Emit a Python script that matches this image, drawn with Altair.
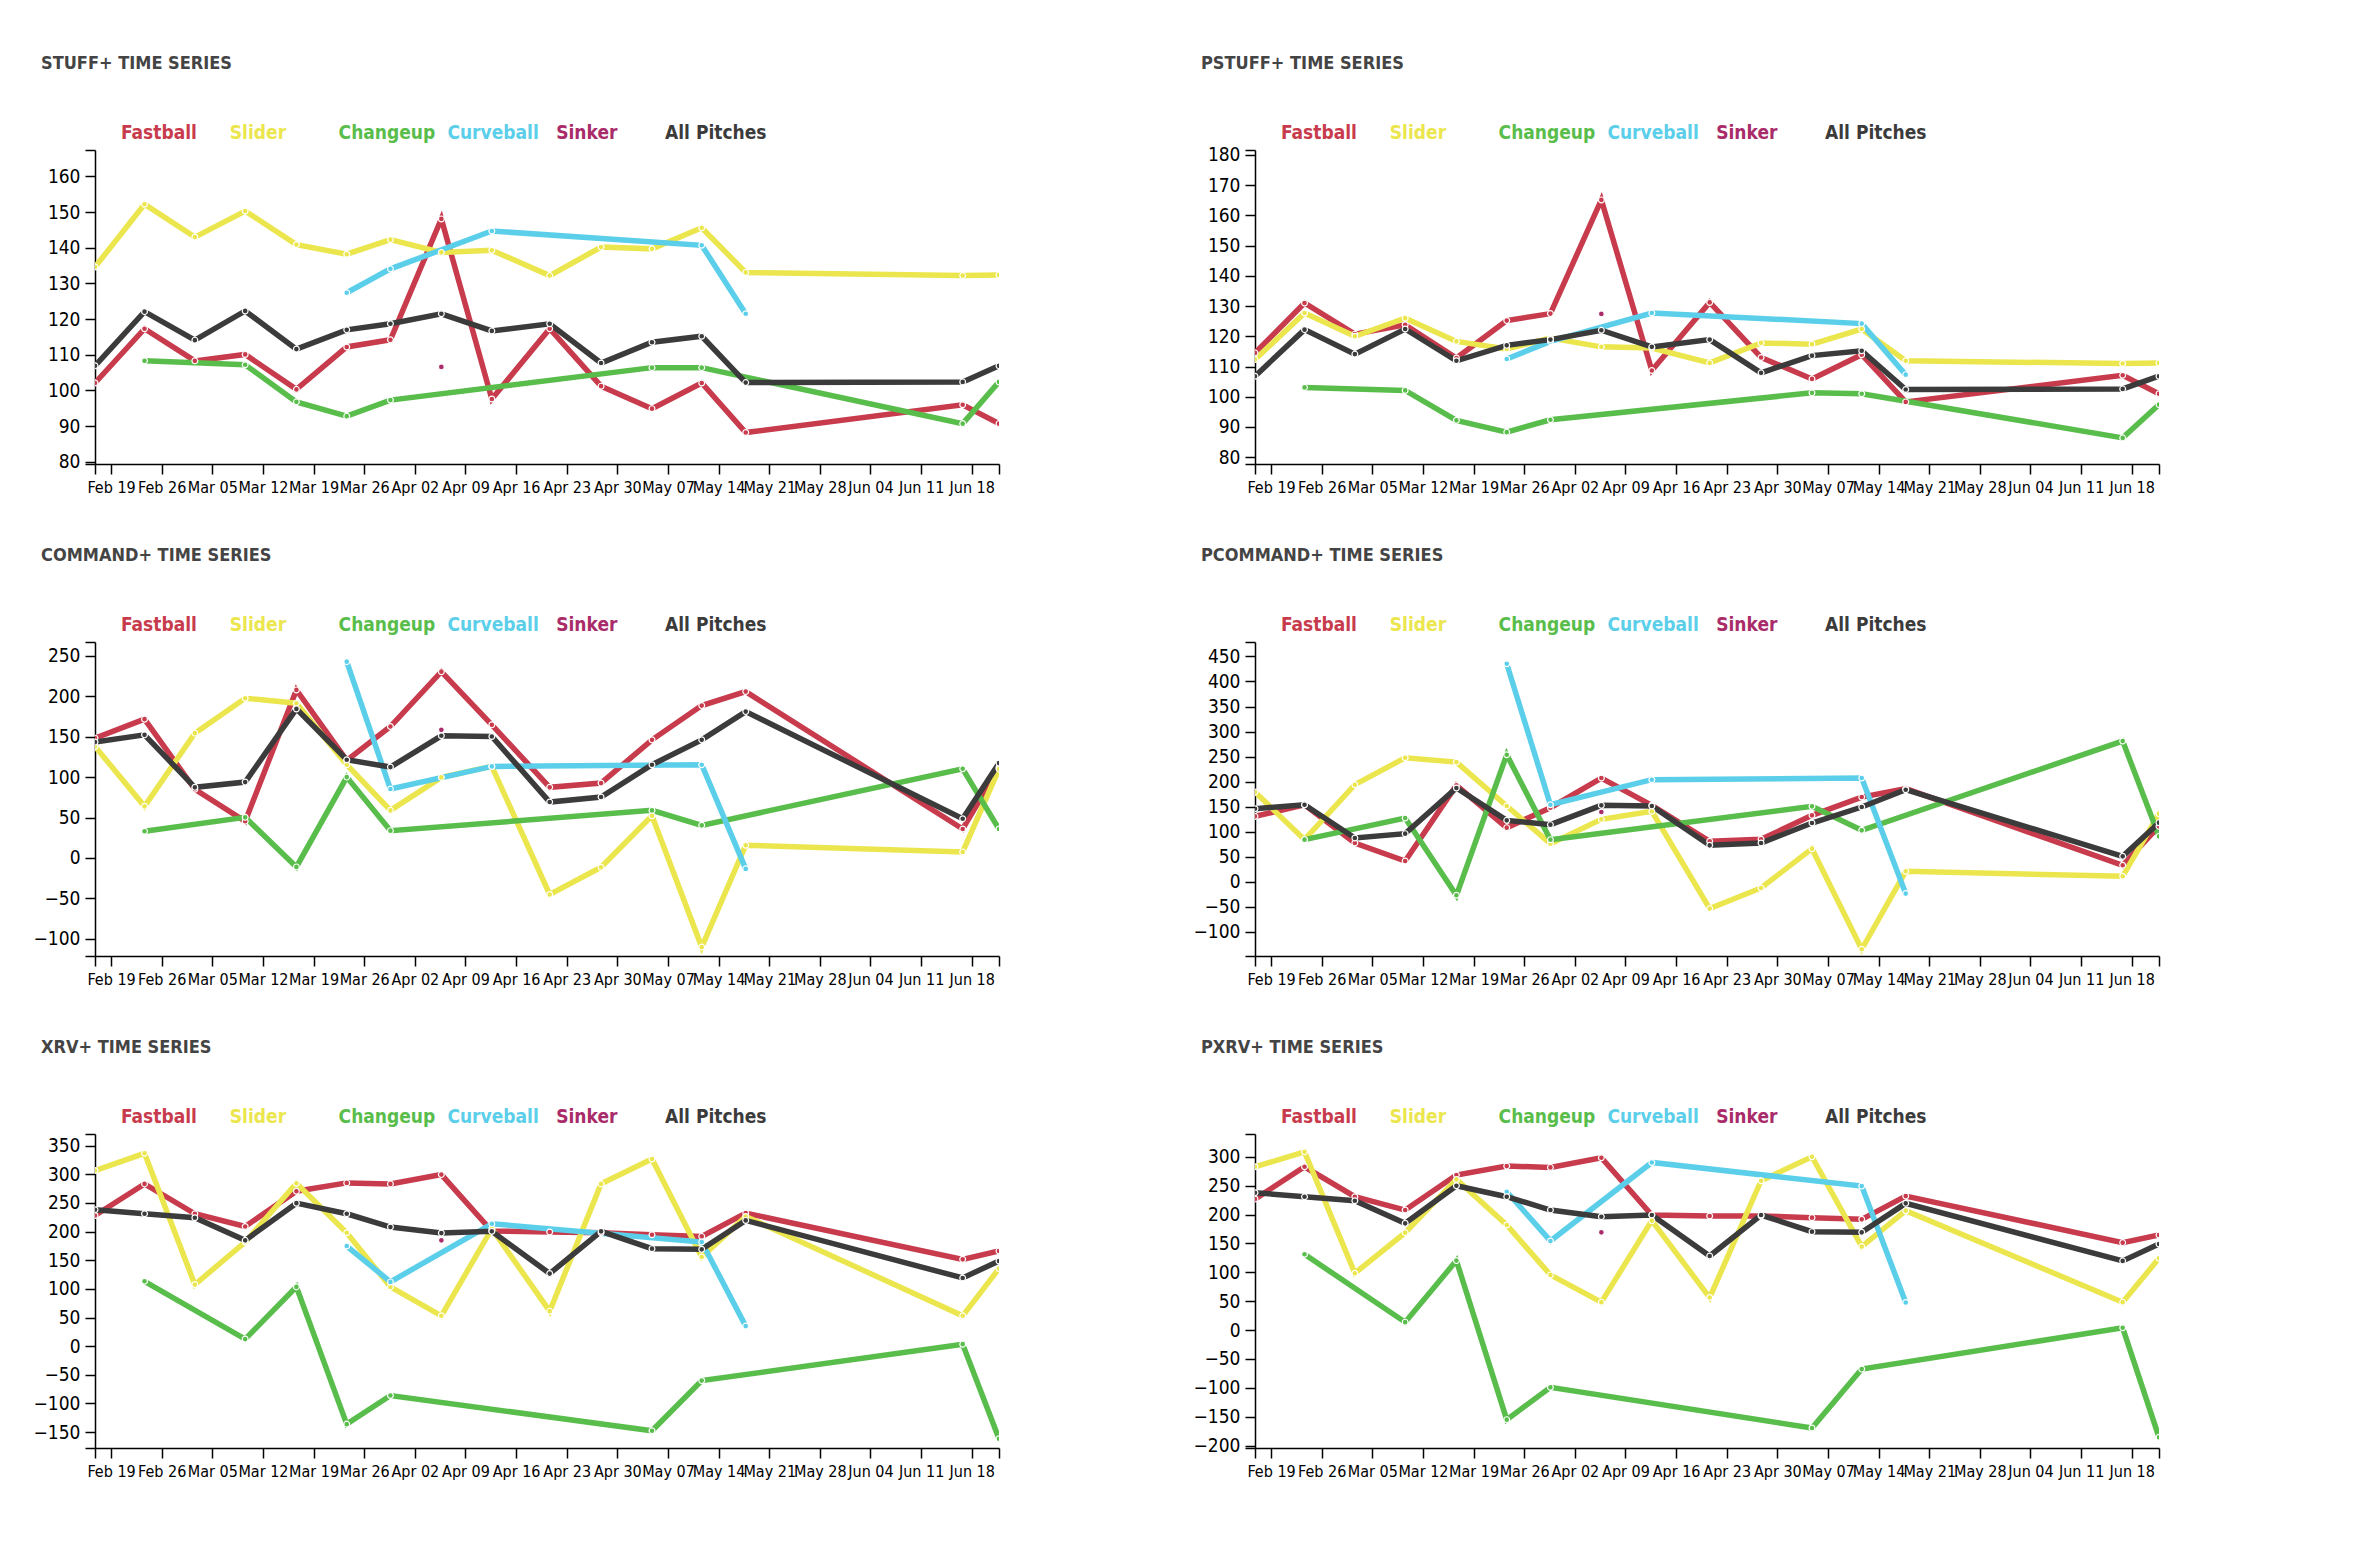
import altair as alt
import pandas as pd

FONT = "DejaVu Sans Condensed, Liberation Sans Narrow, Liberation Sans, sans-serif"

GAME_DATES = [
    "2023-02-16T18:40", "2023-02-23T15:00", "2023-03-02T14:00", "2023-03-09T13:00",
    "2023-03-16T15:00", "2023-03-23T14:00", "2023-03-29T15:00", "2023-04-05T16:00",
    "2023-04-12T15:30", "2023-04-20T15:30", "2023-04-27T18:00", "2023-05-04T19:00",
    "2023-05-11T16:00", "2023-05-17T18:00", "2023-06-16T18:00", "2023-06-21T18:30",
]
WEEK_TICKS = [
    "2023-02-19", "2023-02-26", "2023-03-05", "2023-03-12", "2023-03-19", "2023-03-26",
    "2023-04-02", "2023-04-09", "2023-04-16", "2023-04-23", "2023-04-30", "2023-05-07",
    "2023-05-14", "2023-05-21", "2023-05-28", "2023-06-04", "2023-06-11", "2023-06-18",
]

PITCHES = ["Fastball", "Slider", "Changeup", "Curveball", "Sinker", "All Pitches"]
PITCH_COLORS = ["#c73b4c", "#ebe64e", "#59bd4b", "#5bcfe9", "#a92b69", "#3b3b3b"]

# which games each pitch type shows up in (index into GAME_DATES)
GAMES_PLAYED = {
    "Fastball": list(range(16)),
    "Slider": list(range(16)),
    "Changeup": [1, 3, 4, 5, 6, 11, 12, 14, 15],
    "Curveball": [5, 6, 8, 12, 13],
    "Sinker": [7],
    "All Pitches": list(range(16)),
}

STUFF = {
    "Fastball": [102.1, 117.3, 108.3, 110.1, 100.3, 112.2, 114.2, 148.1, 97.6, 117.3, 101.2, 94.9, 102.1, 88.2, 96.0, 90.7],
    "Slider": [134.6, 152.2, 143.0, 150.3, 140.9, 138.2, 142.3, 138.7, 139.3, 132.2, 140.2, 139.7, 145.6, 133.1, 132.2, 132.4],
    "Changeup": [108.3, 107.2, 96.8, 92.8, 97.3, 106.4, 106.4, 90.7, 102.4],
    "Curveball": [127.4, 134.1, 144.7, 140.7, 121.5],
    "Sinker": [106.6],
    "All Pitches": [106.9, 122.1, 114.1, 122.3, 111.6, 117.0, 118.7, 121.5, 116.7, 118.7, 107.7, 113.5, 115.2, 102.2, 102.4, 106.9],
}
PSTUFF = {
    "Fastball": [114.5, 131.0, 120.7, 123.8, 112.8, 125.2, 127.5, 165.1, 108.7, 131.2, 113.0, 105.9, 113.9, 98.3, 107.1, 101.0],
    "Slider": [112.3, 127.7, 120.0, 126.0, 118.3, 115.8, 119.4, 116.5, 116.1, 111.2, 117.8, 117.4, 122.4, 111.9, 111.0, 111.2],
    "Changeup": [103.1, 102.1, 92.2, 88.3, 92.4, 101.3, 101.0, 86.4, 97.4],
    "Curveball": [112.5, 118.3, 127.7, 124.2, 107.3],
    "Sinker": [127.4],
    "All Pitches": [106.8, 122.2, 114.1, 122.4, 111.9, 117.0, 118.9, 122.0, 116.5, 118.9, 107.9, 113.6, 115.2, 102.4, 102.6, 106.8],
}
COMMAND = {
    "Fastball": [148.3, 171.8, 85.0, 45.4, 208.0, 120.7, 162.7, 230.6, 164.8, 87.4, 92.7, 146.2, 188.6, 205.9, 35.9, 112.0],
    "Slider": [138.0, 63.9, 154.5, 197.7, 191.5, 115.4, 58.9, 99.7, 113.3, -45.2, -11.5, 52.2, -110.3, 15.7, 7.5, 110.0],
    "Changeup": [33.0, 50.3, -11.1, 100.1, 33.8, 58.9, 40.4, 110.4, 35.9],
    "Curveball": [243.0, 85.3, 113.3, 115.4, -13.5],
    "Sinker": [158.6],
    "All Pitches": [143.4, 152.4, 87.4, 93.9, 184.5, 121.5, 112.5, 151.2, 150.4, 69.2, 75.4, 115.4, 146.2, 181.2, 48.6, 117.4],
}
PCOMMAND = {
    "Fastball": [130.4, 153.7, 77.2, 41.2, 192.3, 107.8, 147.7, 207.0, 152.4, 80.5, 84.5, 132.4, 169.0, 185.7, 32.6, 110.5],
    "Slider": [179.0, 83.8, 193.7, 247.6, 238.9, 151.1, 75.8, 124.4, 140.4, -54.0, -12.7, 65.8, -135.2, 20.6, 10.6, 135.8],
    "Changeup": [83.8, 127.1, -27.4, 253.6, 83.8, 150.4, 102.5, 280.9, 90.5],
    "Curveball": [435.4, 153.7, 203.7, 207.0, -24.0],
    "Sinker": [139.1],
    "All Pitches": [145.7, 153.7, 87.2, 95.8, 187.0, 122.4, 113.8, 152.4, 151.1, 72.5, 77.2, 117.1, 149.1, 183.7, 50.5, 117.8],
}
XRV = {
    "Fastball": [228.2, 283.3, 231.1, 209.0, 270.5, 285.0, 283.3, 299.5, 201.0, 199.2, 198.0, 194.5, 191.6, 232.3, 151.6, 166.1],
    "Slider": [306.5, 336.7, 107.5, 181.8, 284.5, 198.0, 103.5, 53.0, 205.0, 61.1, 283.3, 326.8, 155.7, 226.4, 53.0, 135.4],
    "Changeup": [113.3, 12.4, 103.5, -136.1, -86.2, -147.7, -60.1, 3.5, -161.6],
    "Curveball": [174.8, 112.2, 213.7, 181.8, 35.0],
    "Sinker": [184.7],
    "All Pitches": [238.1, 231.1, 224.1, 184.7, 249.6, 231.1, 207.9, 197.4, 200.4, 126.7, 200.4, 170.2, 169.0, 219.5, 119.1, 148.7],
}
PXRV = {
    "Fastball": [226.8, 282.7, 230.9, 207.8, 268.3, 283.9, 281.6, 298.3, 199.2, 197.5, 197.5, 194.6, 191.7, 232.0, 151.4, 164.6],
    "Slider": [282.7, 308.6, 98.4, 168.7, 260.8, 181.9, 95.5, 48.3, 189.4, 56.3, 258.5, 300.0, 144.5, 206.7, 48.3, 124.3],
    "Changeup": [131.2, 13.7, 120.3, -155.1, -99.2, -169.5, -67.5, 4.0, -185.6],
    "Curveball": [239.5, 154.3, 290.2, 249.3, 47.7],
    "Sinker": [169.2],
    "All Pitches": [237.8, 230.9, 224.0, 184.8, 249.9, 230.9, 207.8, 196.3, 199.2, 128.3, 199.2, 170.4, 169.2, 219.4, 119.7, 149.1],
}

STUFF_TICKS = [80, 90, 100, 110, 120, 130, 140, 150, 160]
PSTUFF_TICKS = [80, 90, 100, 110, 120, 130, 140, 150, 160, 170, 180]
COMMAND_TICKS = [-100, -50, 0, 50, 100, 150, 200, 250]
PCOMMAND_TICKS = [-150, -100, -50, 0, 50, 100, 150, 200, 250, 300, 350, 400, 450]
XRV_TICKS = [-150, -100, -50, 0, 50, 100, 150, 200, 250, 300, 350]
PXRV_TICKS = [-200, -150, -100, -50, 0, 50, 100, 150, 200, 250, 300]


def to_datetime(s):
    t = pd.Timestamp(s)
    return alt.DateTime(year=t.year, month=t.month, date=t.day, hours=t.hour, minutes=t.minute)


def time_series_panel(title, values, ticks):
    rows = []
    for pitch in PITCHES:
        for game, v in zip(GAMES_PLAYED[pitch], values[pitch]):
            rows.append({"date": GAME_DATES[game], "value": v, "pitch": pitch})
    df = pd.DataFrame(rows)

    vmin, vmax = df["value"].min(), df["value"].max()
    lo = vmin * 0.9 if vmin > 0 else vmin * 1.1
    hi = vmax * 1.1

    color = alt.Color(
        "pitch:N", scale=alt.Scale(domain=PITCHES, range=PITCH_COLORS), legend=None
    )
    x_values = [GAME_DATES[0]] + WEEK_TICKS + [GAME_DATES[-1]]
    x = alt.X(
        "date:T",
        title=None,
        scale=alt.Scale(nice=False),
        axis=alt.Axis(
            values=[to_datetime(d) for d in x_values],
            format="%b %d",
            labelExpr="hours(datum.value) == 0 ? datum.label : ''",
            labelFontSize=16,
        ),
    )
    y = alt.Y(
        "value:Q",
        title=None,
        scale=alt.Scale(domain=[lo, hi], nice=False, zero=False),
        axis=alt.Axis(
            values=[lo] + ticks + [hi],
            labelExpr=f"indexof({ticks}, datum.value) < 0 ? '' : datum.label",
            labelFontSize=19,
        ),
    )

    lines = [
        alt.Chart(df)
        .transform_filter(alt.datum.pitch == pitch)
        .mark_line(strokeWidth=5.5, strokeJoin="miter", clip=True)
        .encode(x=x, y=y, color=color)
        for pitch in PITCHES
    ]
    points = (
        alt.Chart(df)
        .mark_circle(size=34, opacity=1, stroke="white", strokeWidth=1.2, clip=True)
        .encode(x=x, y=y, color=color)
    )
    legend = (
        alt.Chart(pd.DataFrame({"pitch": PITCHES}))
        .mark_text(align="left", baseline="alphabetic", font=FONT, fontSize=19, fontWeight="bold")
        .encode(
            x=alt.X(
                "pitch:N",
                sort=PITCHES,
                scale=alt.Scale(type="point", domain=PITCHES, range=[26, 570], padding=0),
                axis=None,
            ),
            y=alt.value(-11),
            text="pitch:N",
            color=color,
        )
    )

    chart = (
        alt.layer(alt.layer(*lines, points), legend)
        .resolve_scale(x="independent")
        .properties(
            width=904,
            height=314,
            title=alt.TitleParams(
                title,
                anchor="start",
                frame="group",
                dx=-54,
                offset=51,
                font=FONT,
                fontSize=18,
                fontWeight="bold",
                color="#444444",
            ),
        )
    )
    return chart


chart = (
    alt.concat(
        time_series_panel("STUFF+ TIME SERIES", STUFF, STUFF_TICKS),
        time_series_panel("PSTUFF+ TIME SERIES", PSTUFF, PSTUFF_TICKS),
        time_series_panel("COMMAND+ TIME SERIES", COMMAND, COMMAND_TICKS),
        time_series_panel("PCOMMAND+ TIME SERIES", PCOMMAND, PCOMMAND_TICKS),
        time_series_panel("XRV+ TIME SERIES", XRV, XRV_TICKS),
        time_series_panel("PXRV+ TIME SERIES", PXRV, PXRV_TICKS),
        columns=2,
        spacing={"row": 178, "column": 256},
        bounds="flush",
    )
    .properties(padding={"left": 25, "top": 47, "right": 10, "bottom": 10})
    .configure_view(stroke=None)
    .configure_axis(
        domainColor="black",
        tickColor="black",
        labelColor="black",
        labelFont=FONT,
        tickSize=10,
        domainWidth=1.5,
        tickWidth=1.5,
        labelPadding=5,
        labelOverlap=False,
        labelFlush=False,
        grid=False,
    )
)

chart.save("out.html", embed_options={"renderer": "svg", "actions": False})
